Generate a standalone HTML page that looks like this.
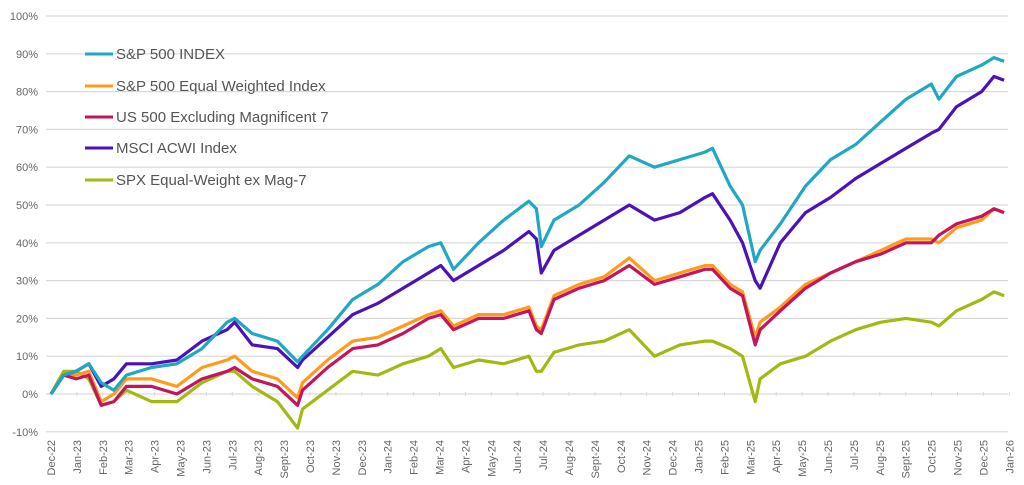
<!DOCTYPE html>
<html><head><meta charset="utf-8"><style>
html,body{margin:0;padding:0;background:#fff;}
svg{display:block;font-family:"Liberation Sans",sans-serif;}
</style></head><body>
<svg id="chart" width="1024" height="485" viewBox="0 0 1024 485">
<g id="grid"></g>
<g id="yaxis"></g>
<g id="xaxis"></g>
<g id="series"></g>
<g id="legend"></g>
</svg>
<script>
const monthLabels=["Dec-22","Jan-23","Feb-23","Mar-23","Apr-23","May-23","Jun-23","Jul-23","Aug-23","Sept-23","Oct-23","Nov-23","Dec-23","Jan-24","Feb-24","Mar-24","Apr-24","May-24","Jun-24","Jul-24","Aug-24","Sept-24","Oct-24","Nov-24","Dec-24","Jan-25","Feb-25","Mar-25","Apr-25","May-25","Jun-25","Jul-25","Aug-25","Sept-25","Oct-25","Nov-25","Dec-25","Jan-26"];
const yTicks=[-10,0,10,20,30,40,50,60,70,80,90,100];
const seriesNames=["S&P 500 INDEX","S&P 500 Equal Weighted Index","US 500 Excluding Magnificent 7","MSCI ACWI Index","SPX Equal-Weight ex Mag-7"];
const seriesColors=["#1fa7c4","#ff9a1a","#c4145e","#4a12b8","#a3b812"];
const spxT=[0,0.49,0.97,1.46,1.94,2.43,2.91,3.88,4.86,5.83,6.8,7.09,7.77,8.74,9.52,9.71,10.68,11.65,12.62,13.59,14.57,15.05,15.54,16.51,17.48,18.45,18.74,18.93,19.42,20.39,21.36,22.33,23.3,24.28,25.25,25.54,26.22,26.7,27.19,27.38,28.16,29.13,30.1,31.07,32.04,33.01,33.99,34.28,34.96,35.93,36.41,36.8];
const spxV=[0,5,6,8,3,1,5,7,8,12,19,20,16,14,8.5,10,17,25,29,35,39,40,33,40,46,51,49,39,46,50,56,63,60,62,64,65,55,50,35,38,45,55,62,66,72,78,82,78,84,87,89,88];
const ewV=[0,5,5,6,-2,0,4,4,2,7,9,10,6,4,-1,3,9,14,15,18,21,22,18,21,21,23,18,17,26,29,31,36,30,32,34,34,29,27,15,19,23,29,32,35,38,41,41,40,44,46,49,48];
const exV=[0,5,4,5,-3,-2,2,2,0,4,6,7,4,2,-3,1,7,12,13,16,20,21,17,20,20,22,17,16,25,28,30,34,29,31,33,33,28,26,13,17,22,28,32,35,37,40,40,42,45,47,49,48];
const acwiV=[0,5,6,8,2,4,8,8,9,14,17,19,13,12,7,9,15,21,24,28,32,34,30,34,38,43,41,32,38,42,46,50,46,48,52,53,46,40,30,28,40,48,52,57,61,65,69,70,76,80,84,83];
const eqxV=[0,6,6,4,-3,-2,1,-2,-2,3,6,6,2,-2,-9,-4,1,6,5,8,10,12,7,9,8,10,6,6,11,13,14,17,10,13,14,14,12,10,-2,4,8,10,14,17,19,20,19,18,22,25,27,26];
const allV=[spxV,ewV,exV,acwiV,eqxV];
const drawOrder=[4,1,2,3,0];
const NS="http://www.w3.org/2000/svg";
const X0=51,DX=25.9,Y0=394,DY=3.78;
function xs(m){return X0+m*DX;}
function ys(v){return Y0-v*DY;}
function mk(tag,attrs,parent){const e=document.createElementNS(NS,tag);for(const k in attrs)e.setAttribute(k,attrs[k]);parent.appendChild(e);return e;}
const grid=document.getElementById('grid'),ya=document.getElementById('yaxis'),xa=document.getElementById('xaxis'),sg=document.getElementById('series'),lg=document.getElementById('legend');
yTicks.forEach(t=>{
 const l=mk('line',{x1:46,x2:1008,y1:ys(t),y2:ys(t),stroke:'#d9d9d9','stroke-width':1.2},grid);
 
 
 const tx=mk('text',{x:38,y:ys(t)+4,'text-anchor':'end','font-size':11,fill:'#666'},ya);
 tx.textContent=t+'%';
 
 
});
monthLabels.forEach((lab,i)=>{
 const x=xs(i);
 const tk=mk('line',{x1:x,x2:x,y1:Y0-2,y2:Y0+2,stroke:'#d9d9d9'},xa);
 
 
 const tx=mk('text',{x:0,y:0,'text-anchor':'end','font-size':11,fill:'#666',transform:`translate(${x+4},440) rotate(-90)`},xa);
 tx.textContent=lab;
 
 
});
drawOrder.forEach(si=>{
 const d=spxT.map((t,i)=>(i?'L':'M')+xs(t).toFixed(1)+','+ys(allV[si][i]).toFixed(1)).join('');
 const p=mk('path',{d:d,fill:'none',stroke:seriesColors[si],'stroke-width':3.2,'stroke-linejoin':'round'},sg);
 
 
});
const legY=[54,86,117,148,180];
seriesNames.forEach((n,i)=>{
 const g=mk('g',{},lg);
 
 
 mk('line',{x1:85,x2:113,y1:legY[i],y2:legY[i],stroke:seriesColors[i],'stroke-width':3},g);
 const t=mk('text',{x:116,y:legY[i]+5,'font-size':15,fill:'#555'},g);
 t.textContent=n;
});
</script>
</body></html>
